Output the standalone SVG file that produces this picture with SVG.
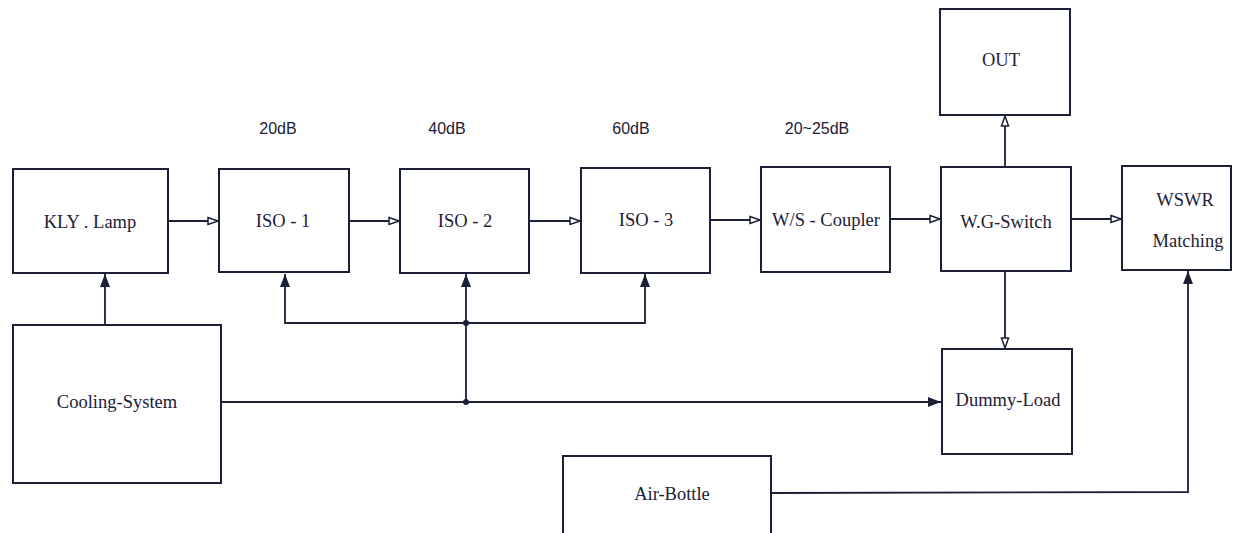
<svg xmlns="http://www.w3.org/2000/svg" width="1236" height="533" viewBox="0 0 1236 533">
<style>
.box{fill:#fff;stroke:#1c2036;stroke-width:2}
.ln{fill:none;stroke:#1c2036;stroke-width:1.8}
.t{font-family:"Liberation Serif",serif;font-size:18.5px;fill:#1c2036;text-anchor:middle;dominant-baseline:central}
.db{font-family:"Liberation Sans",sans-serif;font-size:16px;fill:#1c2036;text-anchor:middle}
</style>
<defs>
<marker id="open" markerWidth="12" markerHeight="10" refX="11" refY="5" orient="auto" markerUnits="userSpaceOnUse">
<path d="M1,1.5 L11,5 L1,8.5 Z" fill="#fff" stroke="#1c2036" stroke-width="1.5"/>
</marker>
<marker id="fill" markerWidth="14" markerHeight="12" refX="13" refY="6" orient="auto" markerUnits="userSpaceOnUse">
<path d="M0,1 L13,6 L0,11 Z" fill="#1c2036"/>
</marker>
</defs>
<rect width="1236" height="533" fill="#fff"/>
<g id="labels">
<text class="db" x="278" y="134">20dB</text>
<text class="db" x="447" y="134">40dB</text>
<text class="db" x="631" y="134">60dB</text>
<text class="db" x="817" y="134">20~25dB</text>
</g>
<g id="connectors">
<line class="ln" x1="168" y1="221" x2="218" y2="221" marker-end="url(#open)"/>
<line class="ln" x1="349" y1="221" x2="399" y2="221" marker-end="url(#open)"/>
<line class="ln" x1="529" y1="221" x2="580" y2="221" marker-end="url(#open)"/>
<line class="ln" x1="710" y1="220" x2="760" y2="220" marker-end="url(#open)"/>
<line class="ln" x1="890" y1="219" x2="940" y2="219" marker-end="url(#open)"/>
<line class="ln" x1="1071" y1="219" x2="1121" y2="219" marker-end="url(#open)"/>
<line class="ln" x1="1005" y1="167" x2="1005" y2="116" marker-end="url(#open)"/>
<line class="ln" x1="1005" y1="271" x2="1005" y2="348" marker-end="url(#open)"/>
<line class="ln" x1="105" y1="325" x2="105" y2="274" marker-end="url(#fill)"/>
<polyline class="ln" points="466,323 285,323 285,274" marker-end="url(#fill)"/>
<polyline class="ln" points="466,323 645,323 645,274" marker-end="url(#fill)"/>
<line class="ln" x1="466" y1="402" x2="466" y2="274" marker-end="url(#fill)"/>
<line class="ln" x1="221" y1="402" x2="941" y2="402" marker-end="url(#fill)"/>
<polyline class="ln" points="771,493 1188,492 1188,271" marker-end="url(#fill)"/>
<circle cx="466" cy="323" r="3" fill="#1c2036"/>
<circle cx="466" cy="402" r="3" fill="#1c2036"/>
</g>
<g id="kly"><rect class="box" x="13" y="169" width="155" height="104"/><text class="t" x="90" y="222">KLY . Lamp</text></g>
<g id="iso1"><rect class="box" x="219" y="169" width="130" height="103"/><text class="t" x="283" y="221">ISO - 1</text></g>
<g id="iso2"><rect class="box" x="400" y="169" width="129" height="104"/><text class="t" x="465" y="221">ISO - 2</text></g>
<g id="iso3"><rect class="box" x="581" y="168" width="129" height="105"/><text class="t" x="646" y="220">ISO - 3</text></g>
<g id="coupler"><rect class="box" x="761" y="167" width="129" height="105"/><text class="t" x="826" y="220">W/S - Coupler</text></g>
<g id="switch"><rect class="box" x="941" y="167" width="130" height="104"/><text class="t" x="1006" y="222">W.G-Switch</text></g>
<g id="wswr"><rect class="box" x="1122" y="166" width="109" height="104"/><text class="t" x="1185" y="200">WSWR</text><text class="t" x="1188" y="241">Matching</text></g>
<g id="out"><rect class="box" x="940" y="9" width="130" height="106"/><text class="t" x="1001" y="60">OUT</text></g>
<g id="cooling"><rect class="box" x="13" y="325" width="208" height="158"/><text class="t" x="117" y="402">Cooling-System</text></g>
<g id="dummy"><rect class="box" x="942" y="349" width="130" height="105"/><text class="t" x="1008" y="400">Dummy-Load</text></g>
<g id="air"><rect class="box" x="563" y="456" width="208" height="90"/><text class="t" x="672" y="494">Air-Bottle</text></g>
</svg>
